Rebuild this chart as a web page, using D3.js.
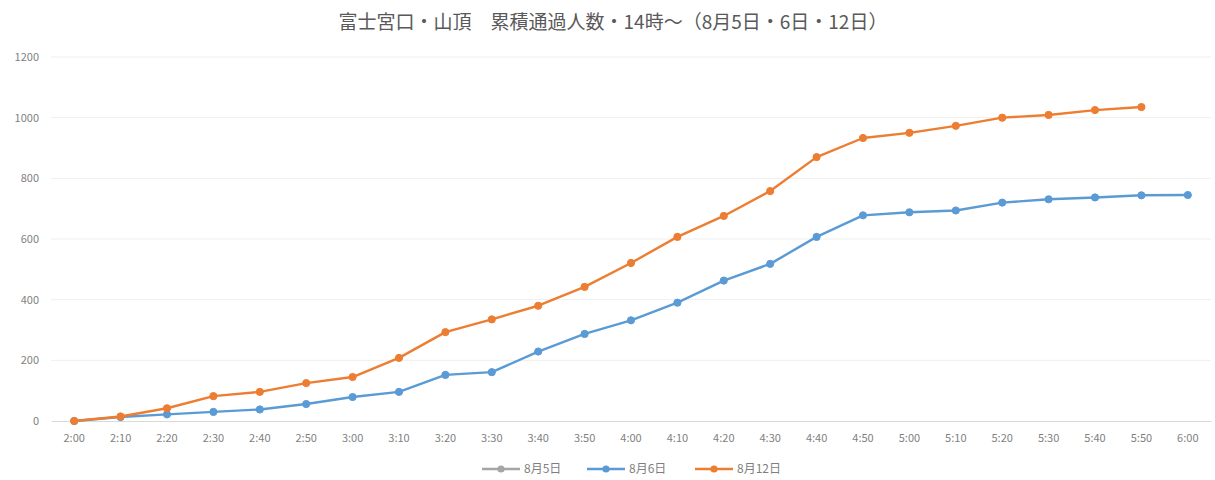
<!DOCTYPE html>
<html><head><meta charset="utf-8">
<script src="https://cdn.jsdelivr.net/npm/d3@7"></script>
<style>body{margin:0;background:#fff;} svg{display:block;}</style>
</head><body>
<svg id="c" width="1215" height="480"></svg>
<script>
const title = "富士宮口・山頂　累積通過人数・14時～（8月5日・6日・12日）";
const categories = ["2:00","2:10","2:20","2:30","2:40","2:50","3:00","3:10","3:20","3:30","3:40","3:50","4:00","4:10","4:20","4:30","4:40","4:50","5:00","5:10","5:20","5:30","5:40","5:50","6:00"];
const yTicks = [0,200,400,600,800,1000,1200];
const seriesNames = ["8月5日","8月6日","8月12日"];
const aug5 = [null,null,null,null,null,null,null,null,null,null,null,null,null,null,null,null,null,null,null,null,null,null,null,null,null];
const aug6 = [0,13,22,30,38,56,79,96,152,161,229,287,332,390,463,518,607,678,688,694,720,731,737,744,745];
const aug12 = [0,15,42,82,96,125,145,208,293,335,380,442,521,607,676,758,870,933,950,973,1000,1009,1025,1035,null];
const colors = ["#A5A5A5","#5B9BD5","#ED7D31"];

const svg = d3.select("#c");
const pLeft = 51, pRight = 1211, pTop = 57, pBottom = 421;
const x = d3.scaleBand().domain(categories).range([pLeft, pRight]);
const y = d3.scaleLinear().domain([0,1200]).range([pBottom, pTop]);
const font = "'Noto Sans CJK JP','Noto Sans',sans-serif";

svg.append("text").attr("x", 613).attr("y", 29).attr("text-anchor","middle")
  .style("font-family", font).style("font-size","19px").style("fill","#595959").text(title);

// gridlines
svg.append("g").selectAll("line").data(yTicks.filter(d=>d>0)).join("line")
  .attr("x1", pLeft).attr("x2", pRight).attr("y1", d=>y(d)).attr("y2", d=>y(d))
  .attr("stroke","#EFEFEF").attr("stroke-width",1);

// y axis labels
const ya = svg.append("g").attr("transform",`translate(${pLeft},0)`)
  .call(d3.axisLeft(y).tickValues(yTicks).tickFormat(d3.format("d")).tickSize(0).tickPadding(12));
ya.select(".domain").remove();
ya.selectAll("text").style("font-family", font).style("font-size","11px").style("fill","#7F7F7F");

// x axis
const xa = svg.append("g").attr("transform",`translate(0,${pBottom})`)
  .call(d3.axisBottom(x).tickSize(0).tickPadding(13));
xa.select(".domain").attr("stroke","#D9D9D9").attr("stroke-width",1.2);
xa.selectAll("text").style("font-family", font).style("font-size","11px").style("fill","#7F7F7F");

const data = [aug5, aug6, aug12];
const line = d3.line().defined(d=>d!=null).x((d,i)=>x(categories[i])+x.bandwidth()/2).y(d=>y(d));
data.forEach((vals,si)=>{
  const g = svg.append("g");
  g.append("path").datum(vals).attr("d", line).attr("fill","none")
    .attr("stroke", colors[si]).attr("stroke-width",2.4).attr("stroke-linejoin","round").attr("stroke-linecap","round");
  g.selectAll("circle").data(vals.map((v,i)=>({v,i})).filter(d=>d.v!=null)).join("circle")
    .attr("cx", d=>x(categories[d.i])+x.bandwidth()/2).attr("cy", d=>y(d.v)).attr("r",3.6)
    .attr("fill", colors[si]).attr("stroke", colors[si]).attr("stroke-width",1);
});

// legend
const legX = [482, 587, 695];
const lg = svg.append("g");
seriesNames.forEach((n,i)=>{
  const lx = legX[i], ly = 469;
  lg.append("line").attr("x1",lx).attr("x2",lx+38).attr("y1",ly).attr("y2",ly).attr("stroke",colors[i]).attr("stroke-width",2.4);
  lg.append("circle").attr("cx",lx+19).attr("cy",ly).attr("r",3.6).attr("fill",colors[i]);
  lg.append("text").attr("x",lx+42).attr("y",ly+4).style("font-family",font).style("font-size","12px").style("fill","#7F7F7F").text(n);
});
</script>
</body></html>
